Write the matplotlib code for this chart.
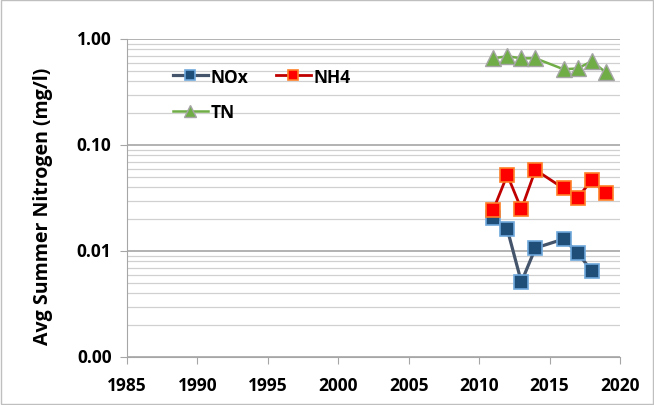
import matplotlib
matplotlib.use('Agg')
import matplotlib.pyplot as plt
from matplotlib.ticker import FixedLocator, LogLocator, NullFormatter
from matplotlib.patches import Rectangle

# data
nox_years = [2011, 2012, 2013, 2014, 2016, 2017, 2018]
nox_vals = [0.0205, 0.0161, 0.0051, 0.0107, 0.0130, 0.0096, 0.0065]

nh4_years = [2011, 2012, 2013, 2014, 2016, 2017, 2018, 2019]
nh4_vals = [0.0244, 0.0524, 0.0249, 0.0585, 0.0390, 0.0320, 0.0468, 0.0350]

tn_years = [2011, 2012, 2013, 2014, 2016, 2017, 2018, 2019]
tn_vals = [0.66, 0.69, 0.66, 0.66, 0.52, 0.53, 0.62, 0.485]

y_ticks = [0.001, 0.01, 0.1, 1.0]
y_labels = ['0.00', '0.01', '0.10', '1.00']
x_ticks = [1985, 1990, 1995, 2000, 2005, 2010, 2015, 2020]

plt.rcParams['font.family'] = ['Open Sans', 'DejaVu Sans']
plt.rcParams['font.weight'] = 'bold'

fig = plt.figure(figsize=(6.54, 4.06), dpi=100)
ax = fig.add_axes([0.194, 0.118, 0.754, 0.783])

l1, = ax.plot(nox_years, nox_vals, color='#44546A', lw=2.3, marker='s', ms=10,
              mfc='#1F4E79', mec='#6FA8DC', mew=1.2, label='NOx', zorder=3)
l2, = ax.plot(nh4_years, nh4_vals, color='#C00000', lw=2.0, marker='s', ms=10,
              mfc='#FF0000', mec='#FF7F27', mew=1.2, label='NH4', zorder=3)
l3, = ax.plot(tn_years, tn_vals, color='#70AD47', lw=1.8, marker='^', ms=11,
              mfc='#70AD47', mec='#A5A5A5', mew=1.0, label='TN', zorder=3)

ax.set_yscale('log')
ax.set_ylim(0.001, 1.0)
ax.set_xlim(1985, 2020)
ax.yaxis.set_major_locator(FixedLocator(y_ticks))
ax.yaxis.set_major_formatter(NullFormatter())
ax.yaxis.set_minor_locator(LogLocator(base=10, subs=range(2, 10)))
ax.yaxis.set_minor_formatter(NullFormatter())
ax.xaxis.set_major_locator(FixedLocator(x_ticks))
ax.xaxis.set_major_formatter(NullFormatter())

# tick labels as bold text next to the ticks
for y, lab in zip(y_ticks, y_labels):
    ax.annotate(lab, xy=(0, y), xycoords=('axes fraction', 'data'), xytext=(-11, 0),
                textcoords='offset points', ha='right', va='center',
                fontsize=12.5, fontweight='bold')
for x in x_ticks:
    ax.annotate(str(x), xy=(x, 0), xycoords=('data', 'axes fraction'), xytext=(0, -20),
                textcoords='offset points', ha='center', va='center',
                fontsize=12.5, fontweight='bold')

ax.grid(axis='y', which='major', color='#A6A6A6', lw=1.2)
ax.grid(axis='y', which='minor', color='#D0D0D0', lw=0.9)
ax.set_axisbelow(True)

ax.spines[['top', 'right']].set_visible(False)
ax.spines[['left', 'bottom']].set_color('#A6A6A6')
ax.tick_params(axis='y', which='major', length=5, color='#A6A6A6')
ax.tick_params(axis='y', which='minor', length=0)
ax.tick_params(axis='x', length=5, color='#A6A6A6')

ax.set_ylabel('Avg Summer Nitrogen (mg/l)', fontsize=14, fontweight='bold', va='center')
ax.yaxis.set_label_coords(-0.170, 0.478)

# column-first fill: NOx, TN in first column, NH4 in second
leg = ax.legend([l1, l3, l2], ['NOx', 'TN', 'NH4'], loc='upper left',
                bbox_to_anchor=(0.062, 0.96), ncol=2, frameon=False,
                fontsize=12.5, handlelength=2.0, columnspacing=1.6, handletextpad=0.15,
                labelspacing=1.0, markerscale=0.75)
for t in leg.get_texts():
    t.set_fontweight('bold')

fig.patches.append(Rectangle((0.002, 0.002), 0.996, 0.996, transform=fig.transFigure,
                             fill=False, edgecolor='#BFBFBF', lw=1))

fig.savefig('out.png', dpi=100)
